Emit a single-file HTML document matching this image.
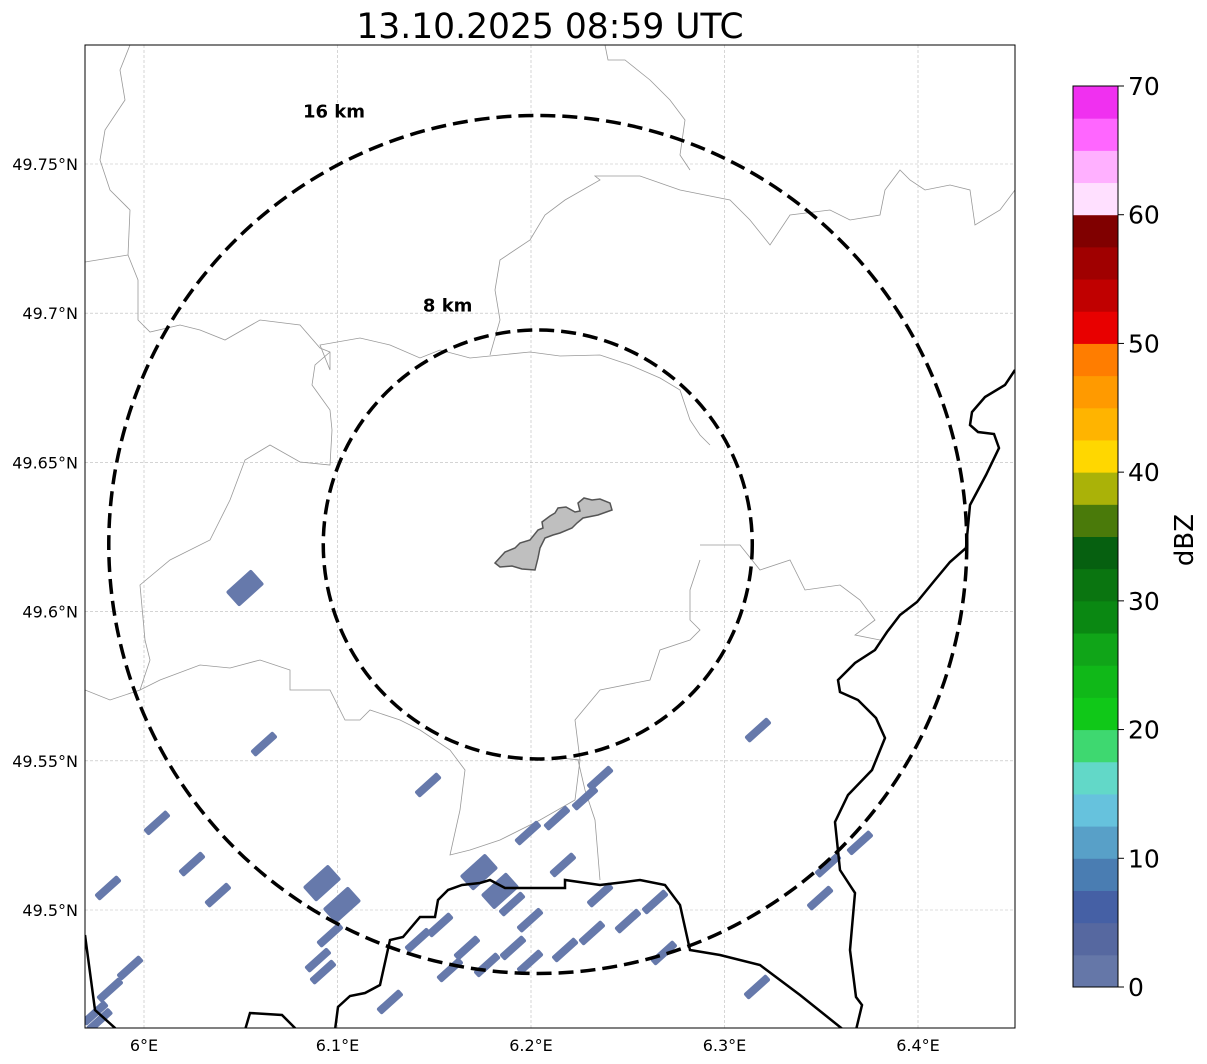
<!DOCTYPE html>
<html><head><meta charset="utf-8"><style>
html,body{margin:0;padding:0;background:#fff;}
svg{display:block;font-family:"DejaVu Sans","Liberation Sans",sans-serif;}
</style></head><body>
<svg id="chart" width="1207" height="1064" viewBox="0 0 1207 1064">
<text x="550" y="38" font-size="34.5" text-anchor="middle">13.10.2025 08:59 UTC</text>
<defs><clipPath id="mapclip"><rect x="85" y="45" width="930" height="983"/></clipPath></defs>
<g id="map" clip-path="url(#mapclip)">
<g id="grid"></g>
<g fill="none" stroke="#999" stroke-width="0.8">
<polyline points="130,45 120,70 125,100 105,130 100,160 110,190 130,210 128,255 85,262"/>
<polyline points="128,255 138,280 138,320 150,332 180,325 200,330 225,340 260,320 300,325 320,348 330,352 330,370 320,345 360,338 390,345 420,358 440,350 470,358 500,355 530,352 560,356 600,355 630,365 660,378 680,390 690,420 700,435 710,445"/>
<polyline points="490,355 500,320 495,290 500,260 530,240 545,215 565,200 600,180 595,176 640,176 680,190 730,200 750,220 770,245 790,215 830,210 850,220 880,215 885,190 900,170 910,180 925,190 950,185 970,190 975,225 1000,210 1015,190"/>
<polyline points="605,45 608,60 625,60 650,80 670,100 685,120 680,155 690,170"/>
<polyline points="330,352 315,365 312,385 330,410 332,430 330,465 300,462 270,445 245,460 230,500 210,540 170,560 140,585 145,640 150,660 140,690 110,700 85,690"/>
<polyline points="140,690 160,680 200,665 230,668 260,660 290,670 290,690 330,690 345,720 360,720 370,710 400,720 420,730 450,750 465,770 460,810 450,855 470,850 500,840 540,820 575,800 580,760 560,758"/>
<polyline points="578,760 585,790 595,820 600,880"/>
<polyline points="700,545 740,545 760,570 790,560 805,590 840,585 860,600 875,620 855,635 880,640"/>
<polyline points="700,560 690,590 690,620 700,630 690,640 660,650 650,680 600,690 575,720 580,760"/>
</g>
<polygon fill="#bfbfbf" stroke="#555" stroke-width="1.5" points="495,563 505,552 515,548 520,543 530,540 538,530 543,528 542,522 550,516 555,513 558,508 566,507 575,512 580,511 578,503 584,498 592,500 600,499 610,503 612,510 598,515 583,518 577,523 572,528 560,533 553,535 545,538 540,548 538,558 535,570 522,569 512,566 500,567"/>
<g id="echoes"></g>
<g fill="none" stroke="#000" stroke-width="2.5">
<polyline points="85,935 95,1010 115,1028 125,1040"/>
<polyline points="245,1030 250,1013 282,1015 295,1028 300,1035"/>
<polyline points="335,1030 338,1007 350,996 365,993 380,985 390,940 403,937 420,917 435,917 438,900 448,890 462,885 480,883 490,880 505,888 565,888 565,880 600,885 625,882 640,880 665,885 680,905 690,950 720,955 760,965 800,995 850,1035"/>
<polyline points="1015,370 1005,385 985,397 972,412 970,425 978,432 994,434 999,448 986,475 970,505 966,548 950,562 935,580 917,602 900,615 887,632 875,650 855,663 838,680 840,692 858,700 876,718 885,738 872,770 848,795 835,822 840,870 855,893 850,950 856,997 862,1005 856,1030"/>
</g>
<g id="rings"></g>
</g>
<rect x="85" y="45" width="930" height="983" fill="none" stroke="#000" stroke-width="1"/>
<g id="ticks" font-size="16"></g>
<g id="cbar"></g>
<text x="1193" y="540" font-size="26" text-anchor="middle" transform="rotate(-90 1193 540)">dBZ</text>
</svg>
<script>
const lonTicks=[6.0,6.1,6.2,6.3,6.4];
const lonLabels=["6°E","6.1°E","6.2°E","6.3°E","6.4°E"];
const latTicks=[49.75,49.7,49.65,49.6,49.55,49.5];
const latLabels=["49.75°N","49.7°N","49.65°N","49.6°N","49.55°N","49.5°N"];
const ringRadiiKm=[8,16];
const ringLabels=["8 km","16 km"];
const cbarTicks=[0,10,20,30,40,50,60,70];
const cbarColors=["#6577a8","#5668a0","#4560a5","#4a7db2","#58a0c8","#66c2dd","#62d8c8","#3ed870","#10c818","#10b818","#10a518","#0a8812","#0a7510","#066010","#4a7a0a","#aab208","#ffd700","#ffb400","#ff9a00","#ff7d00","#e80000","#c00000","#a00000","#800000","#ffe0ff","#ffb0ff","#ff66ff","#f030f0"];
const echoLon=[6.0522,6.062,6.1468,6.3173,6.2357,6.2279,6.2134,6.1984,6.2165,6.1731,6.184,6.1902,6.1995,6.092,6.1023,6.0067,6.0248,6.0382,5.9814,5.9928,5.9824,5.9747,6.0899,6.0961,6.0925,6.153,6.1416,6.1669,6.1581,6.1773,6.1907,6.1995,6.2176,6.2315,6.2357,6.2501,6.2641,6.2687,6.3168,6.1271,6.3494,6.3535,6.37,5.977];
const echoLat=[49.6079,49.5556,49.5419,49.5603,49.5442,49.5375,49.5308,49.5258,49.5151,49.5127,49.5064,49.502,49.4966,49.509,49.5017,49.5292,49.5154,49.505,49.5074,49.4806,49.4732,49.4655,49.4832,49.4916,49.4792,49.495,49.4899,49.4873,49.4799,49.4816,49.4873,49.4826,49.4866,49.4923,49.505,49.4963,49.5027,49.4856,49.4742,49.4692,49.504,49.515,49.5225,49.463];
const echoKind=[2,1,1,1,1,1,1,1,1,2,2,1,1,2,2,1,1,1,1,1,1,1,1,1,1,1,1,1,1,1,1,1,1,1,1,1,1,1,1,1,1,1,1,1];
const centerLon=6.2035, centerLat=49.6225;

const NS='http://www.w3.org/2000/svg';
const X=lon=>144+(lon-6.0)*1935;
const Y=lat=>910-(lat-49.5)*2984;
const kmPx=214.5/8;
const labelDx=[-0.42,-0.475], labelDy=[-1.085,-0.995];
function el(tag,attrs,parent){const e=document.createElementNS(NS,tag);for(const k in attrs)e.setAttribute(k,attrs[k]);parent.appendChild(e);return e;}
const grid=document.getElementById('grid'),ticks=document.getElementById('ticks');
lonTicks.forEach((v,i)=>{
  const g=el('line',{x1:X(v),x2:X(v),y1:45,y2:1028,stroke:'#bbb','stroke-width':0.6,'stroke-dasharray':'3,2'},grid);
  
  
  const t=el('text',{x:X(v),y:1051,'text-anchor':'middle'},ticks);t.textContent=lonLabels[i];
  
  
});
latTicks.forEach((v,i)=>{
  const g=el('line',{x1:85,x2:1015,y1:Y(v),y2:Y(v),stroke:'#bbb','stroke-width':0.6,'stroke-dasharray':'3,2'},grid);
  
  
  const t=el('text',{x:78,y:Y(v)+6,'text-anchor':'end'},ticks);t.textContent=latLabels[i];
  
  
});
const echoes=document.getElementById('echoes');
echoLon.forEach((lon,i)=>{
  const cx=X(lon),cy=Y(echoLat[i]);
  const big=echoKind[i]===2;
  const w=big?34:30,h=big?20:8;
  const r=el('rect',{x:cx-w/2,y:cy-h/2,width:w,height:h,rx:2,fill:'#6679ab',transform:`rotate(-42 ${cx} ${cy})`},echoes);
  
  
});
const rings=document.getElementById('rings');
const cx=X(centerLon),cy=Y(centerLat);
ringRadiiKm.forEach((km,i)=>{
  const r=km*kmPx;
  const c=el('ellipse',{cx:cx,cy:cy,rx:r,ry:r*1.0,fill:'none',stroke:'#000','stroke-width':3.5,'stroke-dasharray':'15,7'},rings);
  
  
  const t=el('text',{x:cx+r*labelDx[i],y:cy+r*labelDy[i],'font-size':18,'font-weight':'bold','text-anchor':'middle'},rings);
  t.textContent=ringLabels[i];
  
  
});
const cbar=document.getElementById('cbar');
const CY=v=>987-v*(901/70);
cbarColors.forEach((c,i)=>{
  const y0=CY(i*2.5),y1=CY((i+1)*2.5);
  const r=el('rect',{x:1073,y:y1,width:45,height:y0-y1+0.5,fill:c},cbar);
  
  
});
const fr=el('rect',{x:1073,y:86,width:45,height:901,fill:'none',stroke:'#000','stroke-width':1},cbar);


cbarTicks.forEach(v=>{
  const l=el('line',{x1:1118,x2:1124,y1:CY(v),y2:CY(v),stroke:'#000'},cbar);
  
  
  const t=el('text',{x:1128,y:CY(v)+9,'font-size':25},cbar);t.textContent=v;
  
  
});
</script>
</body></html>
